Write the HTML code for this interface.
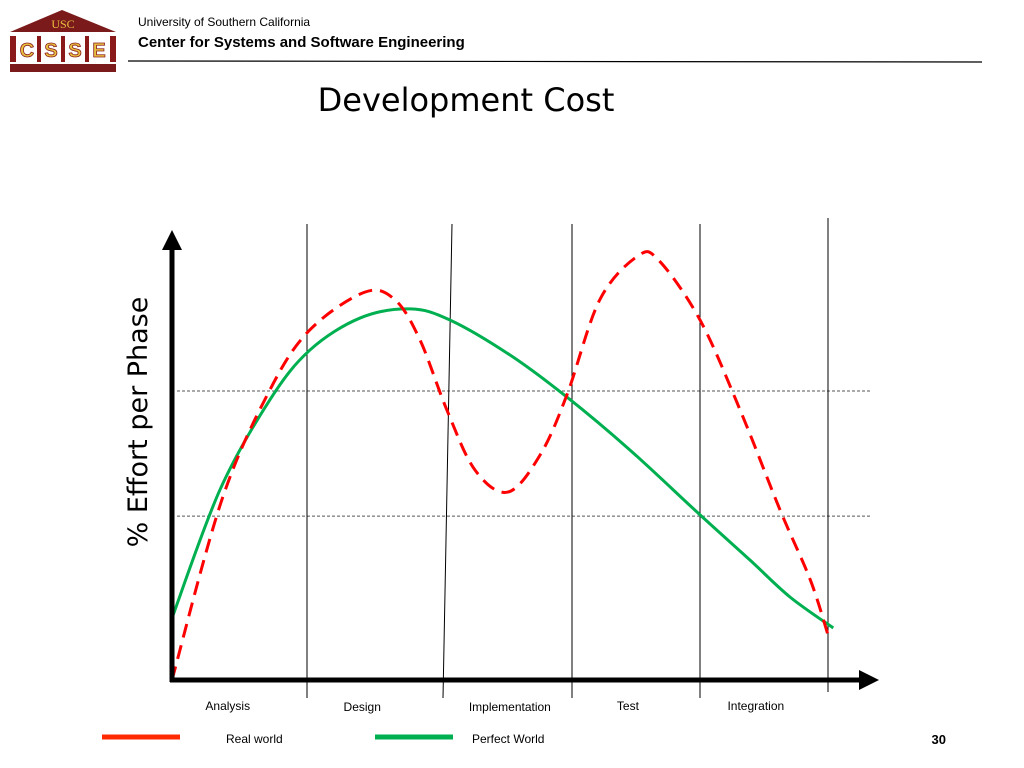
<!DOCTYPE html>
<html><head><meta charset="utf-8"><style>
body{margin:0;width:1024px;height:768px;background:#fff;overflow:hidden;font-family:"Liberation Sans",sans-serif;position:relative}
.abs{position:absolute}
</style></head><body>
<svg width="1024" height="768" class="abs" style="left:0;top:0">
<g>
<polygon points="10,32 62,10 116,32" fill="#7a1a1a"/>
<text x="63" y="28" font-family="Liberation Serif" font-size="12" fill="#e8c040" text-anchor="middle">USC</text>
<rect x="10" y="35" width="106" height="28" fill="#fff"/>
<rect x="10" y="36" width="6" height="26" fill="#8a1a1a"/><rect x="110" y="36" width="6" height="26" fill="#8a1a1a"/>
<rect x="37" y="36" width="4" height="26" fill="#8a1a1a"/><rect x="61" y="36" width="4" height="26" fill="#8a1a1a"/><rect x="85" y="36" width="4" height="26" fill="#8a1a1a"/>
<text x="27" y="57" font-size="20" font-weight="bold" fill="#e8c040" text-anchor="middle" stroke="#8a1a1a" stroke-width="0.8">C</text>
<text x="51" y="57" font-size="20" font-weight="bold" fill="#e8c040" text-anchor="middle" stroke="#8a1a1a" stroke-width="0.8">S</text>
<text x="75" y="57" font-size="20" font-weight="bold" fill="#e8c040" text-anchor="middle" stroke="#8a1a1a" stroke-width="0.8">S</text>
<text x="99" y="57" font-size="20" font-weight="bold" fill="#e8c040" text-anchor="middle" stroke="#8a1a1a" stroke-width="0.8">E</text>
<rect x="10" y="64" width="106" height="8" fill="#7a1a1a"/>
</g>
<text x="138" y="26" font-size="12">University of Southern California</text>
<text x="138" y="47" font-size="15" font-weight="bold">Center for Systems and Software Engineering</text>
<line x1="128" y1="61" x2="982" y2="62" stroke="#000" stroke-width="1.2"/>
<text x="466" y="111" font-size="32" text-anchor="middle" font-family="'DejaVu Sans',sans-serif">Development Cost</text>
<text transform="translate(147,422) rotate(-90)" font-size="27" text-anchor="middle" font-family="'DejaVu Sans',sans-serif">% Effort per Phase</text>
<g id="chart"></g>
<g>
<line x1="102" y1="737" x2="180" y2="737" stroke="#ff2a00" stroke-width="5"/>
<text x="226" y="743" font-size="12">Real world</text>
<line x1="375" y1="737" x2="453" y2="737" stroke="#00b050" stroke-width="5"/>
<text x="472" y="743" font-size="12">Perfect World</text>
</g>
<text x="946" y="744" font-size="13" font-weight="bold" text-anchor="end">30</text>
</svg>
<script>
const phases=["Analysis","Design","Implementation","Test","Integration"];
const phaseLabelX=[8.5,29,51.5,69.5,89];
const realX=[0,7.6,14.9,21,29.4,34,37.8,41.9,46.2,51.2,56.1,60.2,65.2,71,74.2,80.5,86.6,92.7,97.3,100];
const realY=[0,41.9,67.4,81.4,90.2,88.4,79.1,62.8,48.8,43.7,52.3,66.3,88.4,98.6,97.6,83.7,62.8,39.5,23.3,10.5];
const perfX=[0,7.3,14.9,21,28.7,36.3,42.4,51.5,60.2,69.8,80.5,88.1,94.2,100.8];
const perfY=[14.4,44.2,65.1,76.7,84.2,86.3,83.7,75.6,65.8,53.5,38.4,27.9,19.3,12.1];
const refLines=[67.2,38.1];
const xs=v=>172+v*6.56, ys=v=>680-v*4.3;
const NS="http://www.w3.org/2000/svg", g=document.getElementById('chart');
function mk(t,a){const e=document.createElementNS(NS,t);for(const k in a)e.setAttribute(k,a[k]);g.appendChild(e);return e;}
refLines.forEach(v=>{const e=mk('line',{x1:177,x2:870,y1:ys(v),y2:ys(v),stroke:'#555','stroke-dasharray':'3,2','stroke-width':1});

});
[[307,224,307,698],[452,224,443,698],[572,224,572,698],[700,224,700,698],[828,218,828,692]].forEach(p=>{const e=mk('line',{x1:p[0],y1:p[1],x2:p[2],y2:p[3],stroke:'#000','stroke-width':1});

});
function path(X,Y){const P=X.map((x,i)=>[xs(x),ys(Y[i])]);let d=`M${P[0][0]},${P[0][1]}`;
for(let i=0;i<P.length-1;i++){const p0=P[i-1]||P[i],p1=P[i],p2=P[i+1],p3=P[i+2]||p2;
d+=` C${p1[0]+(p2[0]-p0[0])/6},${p1[1]+(p2[1]-p0[1])/6} ${p2[0]-(p3[0]-p1[0])/6},${p2[1]-(p3[1]-p1[1])/6} ${p2[0]},${p2[1]}`;}return d;}
const gp=mk('path',{d:path(perfX,perfY),fill:'none',stroke:'#00b050','stroke-width':3});


const rp=mk('path',{d:path(realX,realY),fill:'none',stroke:'#ff0000','stroke-width':3,'stroke-dasharray':'14,8'});


const ya=mk('line',{x1:172,y1:682,x2:172,y2:248,stroke:'#000','stroke-width':5});


mk('polygon',{points:'172,230 162,250 182,250',fill:'#000'});
const xa=mk('line',{x1:170,y1:680,x2:862,y2:680,stroke:'#000','stroke-width':5});


mk('polygon',{points:'879,680 859,670 859,690',fill:'#000'});
phases.forEach((p,i)=>{const t=mk('text',{x:xs(phaseLabelX[i]),y:[710,711,711,710,710][i],'font-size':12,'text-anchor':'middle'});t.textContent=p;

});
</script>
</body></html>
